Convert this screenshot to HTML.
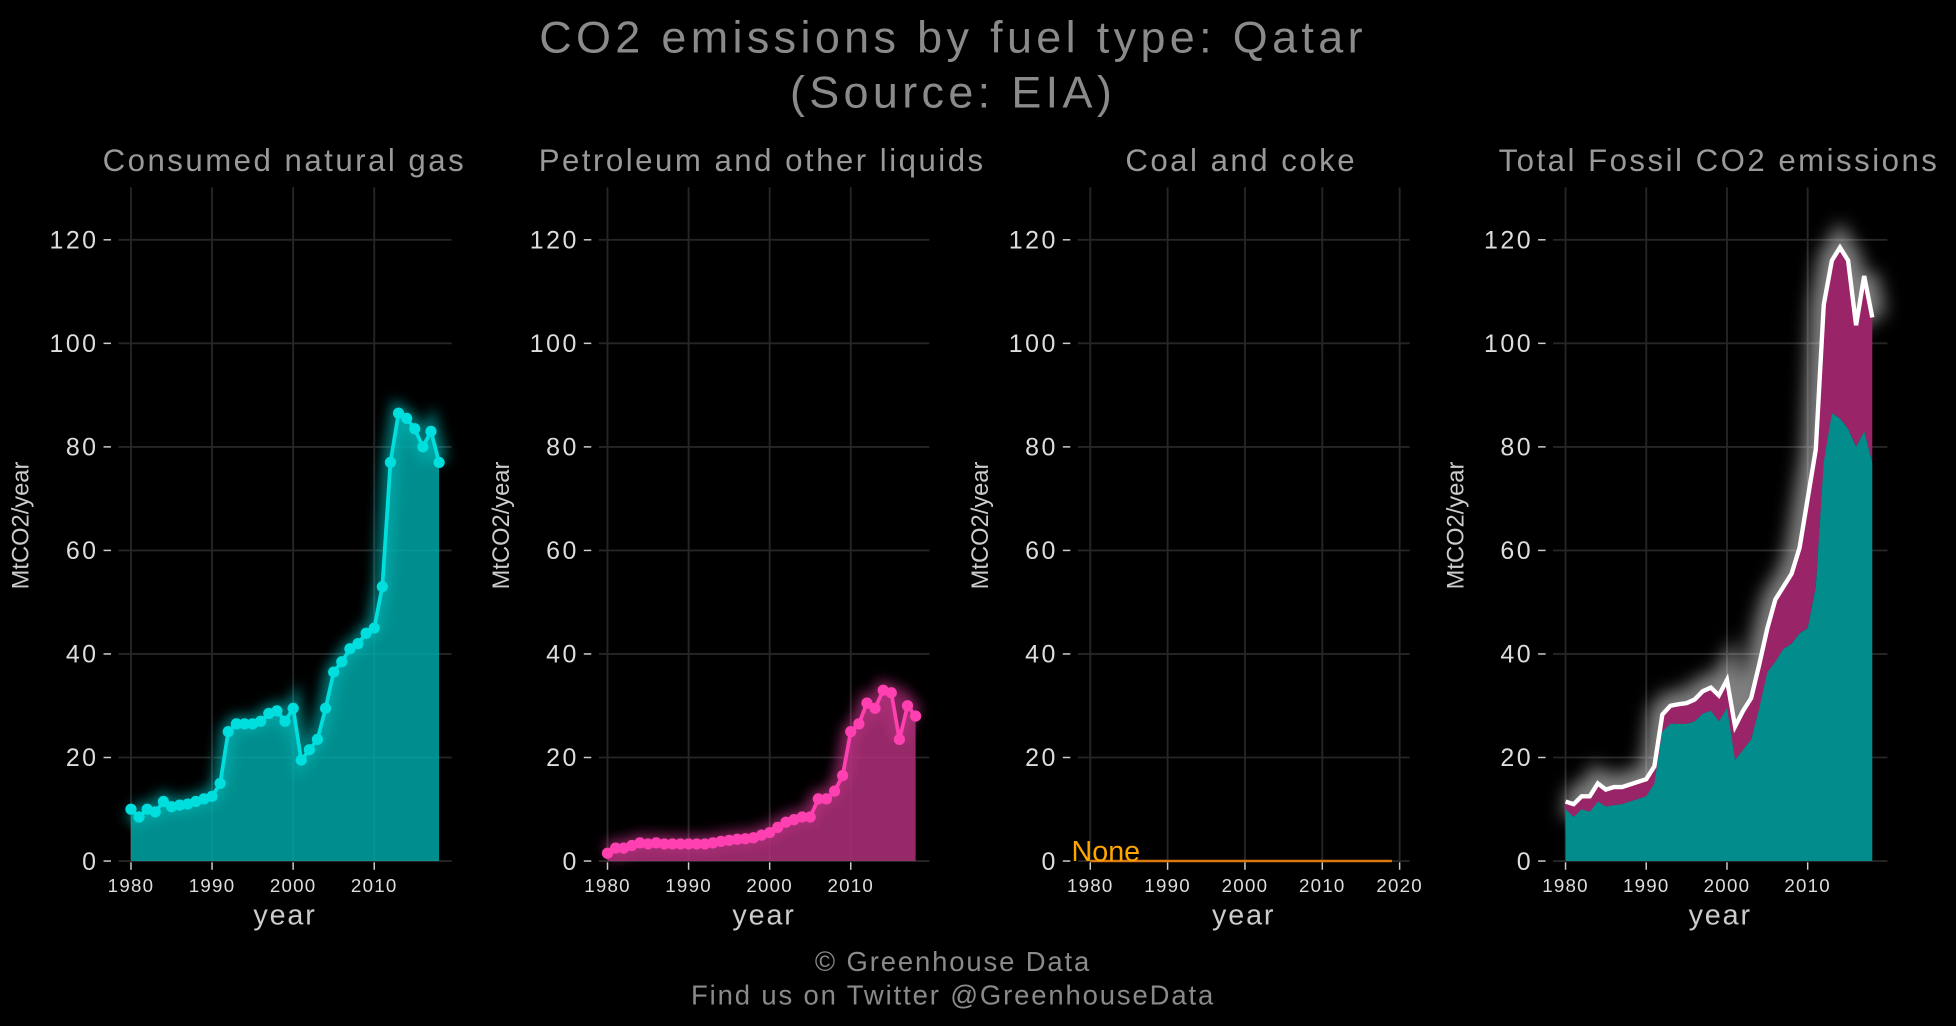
<!DOCTYPE html>
<html><head><meta charset="utf-8"><style>
html,body{margin:0;padding:0;background:#000;width:1956px;height:1026px;overflow:hidden}
svg{display:block}
text{font-family:"Liberation Sans",sans-serif}
</style></head><body>
<svg id="s" width="1956" height="1026" viewBox="0 0 1568 822" xmlns="http://www.w3.org/2000/svg">
<defs>
<filter id="g" x="-20%" y="-20%" width="140%" height="140%"><feGaussianBlur stdDeviation="5"/></filter>
<filter id="g2" x="-20%" y="-20%" width="140%" height="140%"><feGaussianBlur stdDeviation="7"/></filter>
</defs>
<rect width="1568" height="822" fill="#000"/>
<text x="764" y="42" text-anchor="middle" font-size="36" letter-spacing="3.5" fill="#8a8a8a">CO2 emissions by fuel type: Qatar</text>
<text x="764" y="86" text-anchor="middle" font-size="36" letter-spacing="3.5" fill="#8a8a8a">(Source: EIA)</text>
<text x="764" y="778" text-anchor="middle" font-size="22" letter-spacing="1.5" fill="#8a8a8a">© Greenhouse Data</text>
<text x="764" y="805" text-anchor="middle" font-size="22" letter-spacing="1.5" fill="#8a8a8a">Find us on Twitter @GreenhouseData</text>
<g id="c"></g>
</svg>
<script>
const gas=[10,8.5,10,9.5,11.5,10.5,10.8,11,11.5,12,12.5,15,25,26.5,26.5,26.5,27,28.5,29,27,29.5,19.5,21.5,23.5,29.5,36.5,38.5,41,42,44,45,53,77,86.5,85.5,83.5,80,83,77];
const pet=[1.5,2.5,2.5,3,3.5,3.3,3.5,3.3,3.3,3.3,3.3,3.3,3.3,3.5,3.8,4,4.2,4.3,4.5,5,5.5,6.5,7.5,8,8.5,8.5,12,12,13.5,16.5,25,26.5,30.5,29.5,33,32.5,23.5,30,28];
const tot=gas.map((v,i)=>v+pet[i]);
let h='';
const Y=v=>690-v*4.15;
function axes(x0,x1,gx0,gx1,years,xs,title,tx){
  for(const v of [0,20,40,60,80,100,120]){
    h+=`<line x1="${gx0}" x2="${gx1}" y1="${Y(v)}" y2="${Y(v)}" stroke="#262626" stroke-width="1.5"/>`;
    h+=`<line x1="${gx0-12}" x2="${gx0-6}" y1="${Y(v)}" y2="${Y(v)}" stroke="#ccc" stroke-width="1.2"/>`;
    h+=`<text x="${gx0-16}" y="${Y(v)+7}" text-anchor="end" font-size="20" letter-spacing="2" fill="#ddd">${v}</text>`;
  }
  years.forEach(yr=>{const x=xs(yr);
    h+=`<line x1="${x}" x2="${x}" y1="150" y2="690" stroke="#262626" stroke-width="1.5"/>`;
    h+=`<line x1="${x}" x2="${x}" y1="691" y2="697" stroke="#ccc" stroke-width="1.2"/>`;
    h+=`<text x="${x}" y="715" text-anchor="middle" font-size="15" letter-spacing="1" fill="#ddd">${yr}</text>`;});
  h+=`<text x="${(gx0+gx1)/2}" y="741" text-anchor="middle" font-size="23" letter-spacing="1.5" fill="#ccc">year</text>`;
  h+=`<text transform="translate(${gx0-72},421) rotate(-90)" text-anchor="middle" font-size="19" fill="#ccc">MtCO2/year</text>`;
  h+=`<text x="${tx}" y="137" text-anchor="middle" font-size="25" letter-spacing="2" fill="#999">${title}</text>`;
}
function pts(arr,xs){return arr.map((v,i)=>[xs(1980+i),Y(v)]);}
function line(p){return p.map((q,i)=>(i?'L':'M')+q[0].toFixed(1)+','+q[1].toFixed(1)).join('');}
function area(top,bot){return line(top)+bot.slice().reverse().map(q=>'L'+q[0].toFixed(1)+','+q[1].toFixed(1)).join('')+'Z';}
let xs=y=>105+(y-1980)*6.5;
axes(105,362,95,362,[1980,1990,2000,2010],xs,'Consumed natural gas',228);
let p=pts(gas,xs),b=p.map(q=>[q[0],690]);
h+=`<path d="${line(p)}" stroke="#00e0e0" stroke-opacity="0.5" stroke-width="14" fill="none" filter="url(#g)"/>`;
h+=`<path d="${area(p,b)}" fill="#00b0b0" fill-opacity="0.8"/>`;
h+=`<path d="${line(p)}" stroke="#00dede" stroke-width="3" fill="none"/>`;
p.forEach(q=>h+=`<circle cx="${q[0]}" cy="${q[1]}" r="4.5" fill="#00dede"/>`);
xs=y=>487+(y-1980)*6.5;
axes(487,745,480,745,[1980,1990,2000,2010],xs,'Petroleum and other liquids',611);
p=pts(pet,xs);b=p.map(q=>[q[0],690]);
h+=`<path d="${line(p)}" stroke="#ff3fb0" stroke-opacity="0.5" stroke-width="14" fill="none" filter="url(#g)"/>`;
h+=`<path d="${area(p,b)}" fill="#b0307a" fill-opacity="0.85"/>`;
h+=`<path d="${line(p)}" stroke="#ff40b0" stroke-width="3" fill="none"/>`;
p.forEach(q=>h+=`<circle cx="${q[0]}" cy="${q[1]}" r="4.5" fill="#ff40b0"/>`);
xs=y=>874+(y-1980)*6.2;
axes(874,1130,864,1130,[1980,1990,2000,2010,2020],xs,'Coal and coke',995);
h+=`<line x1="${xs(1980)}" x2="${xs(2019)}" y1="690" y2="690" stroke="#d87a10" stroke-width="2"/>`;
h+=`<text x="859" y="690" font-size="23" fill="#ffa500">None</text>`;
xs=y=>1255+(y-1980)*6.47;
axes(1255,1513,1245,1513,[1980,1990,2000,2010],xs,'Total Fossil CO2 emissions',1378);
let pg=pts(gas,xs),pt=pts(tot,xs);b=pg.map(q=>[q[0],690]);
h+=`<path d="${line(pt)}" stroke="#ffffff" stroke-opacity="0.5" stroke-width="22" fill="none" filter="url(#g2)"/>`;
h+=`<path d="${area(pt,pg)}" fill="#9a2468"/>`;
h+=`<path d="${area(pg,b)}" fill="#028c8c"/>`;
h+=`<path d="${line(pt)}" stroke="#fff" stroke-width="3.5" fill="none"/>`;
document.getElementById('c').innerHTML=h;
</script>
</body></html>
